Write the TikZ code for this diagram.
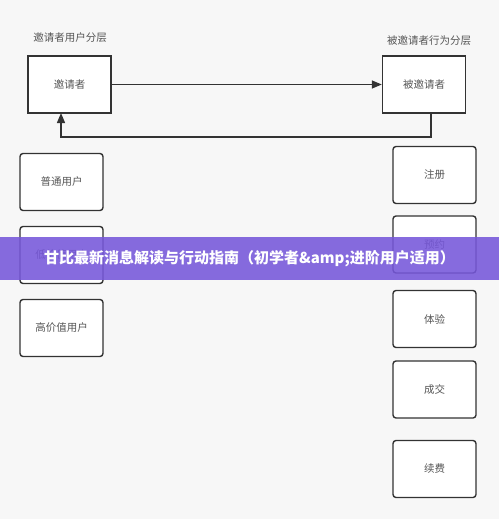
\documentclass[tikz,border=0pt]{standalone}
\usepackage{fontspec}
\newfontfamily\cjk{Noto Sans CJK SC}
\usetikzlibrary{arrows.meta}
\definecolor{bg}{HTML}{F7F7F7}
\definecolor{edge}{HTML}{333333}
\definecolor{txt}{HTML}{555555}
\definecolor{banner}{HTML}{7657DA}
\tikzset{
  topbox/.style={draw=edge, line width=1.4pt, fill=white, minimum width=83pt, minimum height=57pt, font=\cjk\fontsize{10.5}{12}\selectfont, text=txt},
  sidebox/.style={topbox, rounded corners=3pt},
  lbl/.style={font=\cjk\fontsize{10.5}{12}\selectfont, text=txt},
  conn/.style={draw=edge, line width=1.4pt},
  tip/.style={-{Triangle[length=10pt,width=8pt]}}
}
\begin{document}
\begin{tikzpicture}[x=1pt,y=-1pt]
\fill[bg] (0,0) rectangle (499,519);
\useasboundingbox (0,0) rectangle (499,519);
\node[lbl] (l1) at (70,38) {邀请者用户分层};
\node[lbl] (l2) at (429,41) {被邀请者行为分层};
\node[topbox] (inv) at (69.5,84.5) {邀请者};
\node[topbox] (invd) at (424,84.5) {被邀请者};
\draw[conn,tip] (inv.east) -- (invd.west);
\coordinate (c1) at (431,137);
\coordinate (c2) at (61,137);
\draw[conn,tip] (431,113) -- (c1) -- (c2) -- (61,113);
\node[sidebox] (u1) at (61.5,182) {普通用户};
\node[sidebox] (u2) at (61.5,255) {低价值用户};
\node[sidebox] (u3) at (61.5,328) {高价值用户};
\node[sidebox] (b1) at (434.5,175) {注册};
\node[sidebox] (b2) at (434.5,244.5) {预约};
\node[sidebox] (b3) at (434.5,319) {体验};
\node[sidebox] (b4) at (434.5,389.5) {成交};
\node[sidebox] (b5) at (434.5,469) {续费};
\fill[banner, opacity=0.88] (0,237) rectangle (499,280);
\node[font=\cjk\bfseries\fontsize{15}{17}\selectfont, text=white] (title) at (249.5,258.5) {甘比最新消息解读与行动指南（初学者\&amp;进阶用户适用）};
\end{tikzpicture}
\end{document}
